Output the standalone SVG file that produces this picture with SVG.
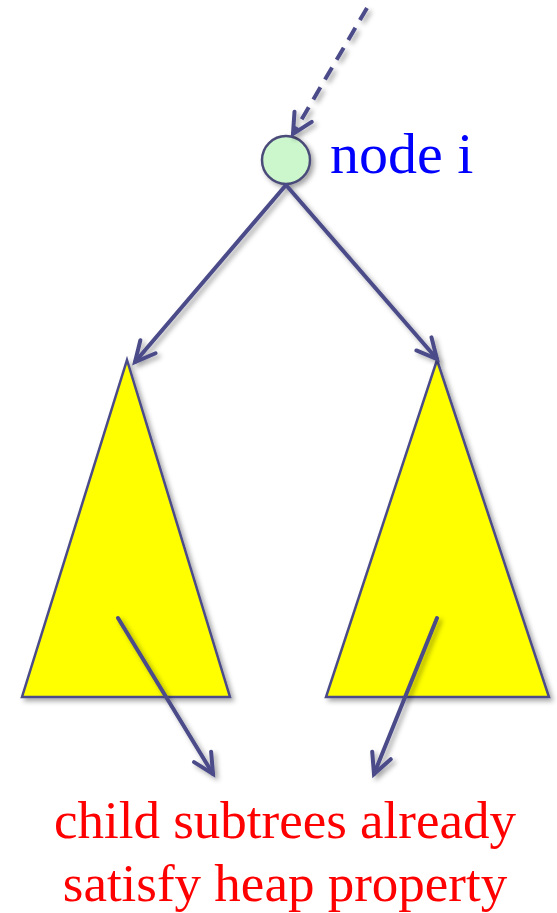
<svg xmlns="http://www.w3.org/2000/svg" width="557" height="913" viewBox="0 0 557 913">
  <defs>
    <style>
      .edge { stroke: #4B4B8A; stroke-width: 4; fill: none; stroke-linecap: round; }
      .dash { stroke-dasharray: 14 9; stroke-linecap: butt; }
      .tri { fill: #FFFF00; stroke: #4B4B8A; stroke-width: 2.5; stroke-linejoin: miter; }
      .node { fill: #CCF7CC; stroke: #4B4B7A; stroke-width: 2.5; }
      .label { font-family: "Liberation Serif", "Times New Roman", serif; }
    </style>
    <filter id="shadow" x="-20%" y="-20%" width="150%" height="150%">
      <feDropShadow dx="3" dy="3" stdDeviation="2.5" flood-color="#000" flood-opacity="0.35"/>
    </filter>
    <marker id="arrow" markerUnits="userSpaceOnUse" markerWidth="30" markerHeight="30" viewBox="-24 -12 30 24" refX="0" refY="0" orient="auto">
      <path d="M -20 -10 L 0 0 L -20 10" fill="none" stroke="#4B4B8A" stroke-width="4" stroke-linecap="round" stroke-linejoin="miter"/>
    </marker>
  </defs>

  <g id="subtree-left" filter="url(#shadow)">
    <polygon class="tri" points="127,360 230,697 22,697"/>
  </g>
  <g id="subtree-right" filter="url(#shadow)">
    <polygon class="tri" points="437,360 549,697 326,697"/>
  </g>

  <g id="node-i" filter="url(#shadow)">
    <circle class="node" cx="286" cy="160" r="24"/>
  </g>
  <g id="node-i-label">
    <text class="label" x="330" y="173" font-size="58" fill="#0000FF">node i</text>
  </g>

  <g id="connectors" filter="url(#shadow)">
    <line class="edge dash" x1="367" y1="8" x2="293" y2="134" marker-end="url(#arrow)"/>
    <line class="edge" x1="286" y1="185" x2="135" y2="362" marker-end="url(#arrow)"/>
    <line class="edge" x1="286" y1="185" x2="437" y2="359" marker-end="url(#arrow)"/>
    <line class="edge" x1="118" y1="618" x2="213" y2="774" marker-end="url(#arrow)"/>
    <line class="edge" x1="437" y1="618" x2="374" y2="774" marker-end="url(#arrow)"/>
  </g>

  <g id="caption">
    <text class="label" x="285" y="838" font-size="53" fill="#FF0000" text-anchor="middle">child subtrees already</text>
    <text class="label" x="285" y="901" font-size="53" fill="#FF0000" text-anchor="middle">satisfy heap property</text>
  </g>
</svg>
